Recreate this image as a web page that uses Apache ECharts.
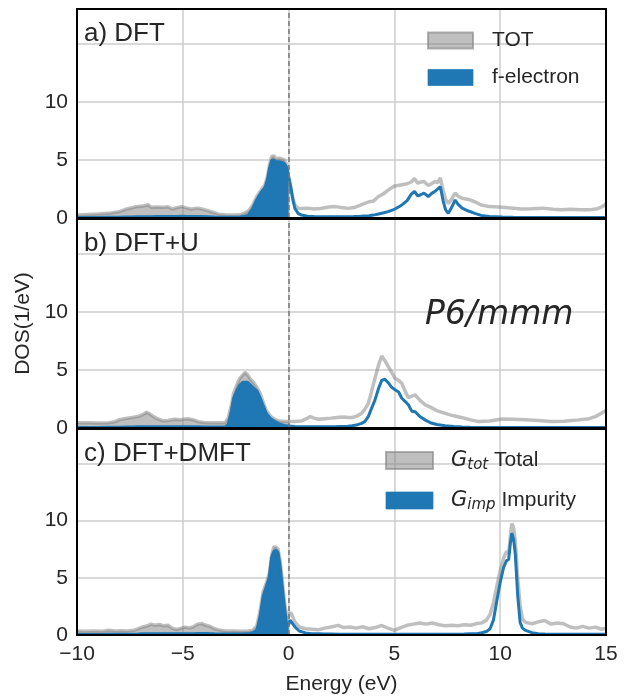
<!DOCTYPE html>
<html>
<head>
<meta charset="utf-8">
<script src="https://cdn.jsdelivr.net/npm/echarts@6/dist/echarts.min.js"></script>
<style>html,body{margin:0;padding:0;background:#fff}#c{width:628px;height:696px}</style>
</head>
<body>
<div id="c"></div>
<script>
// ---------- data ----------
const xTicks = [-10, -5, 0, 5, 10, 15];
const yTicks = [0, 5, 10];

// panel a) DFT
const eA = [-10,-9.5,-9,-8.5,-8,-7.7,-7.4,-7.2,-7.0,-6.8,-6.63,-6.5,-6.2,-5.9,-5.7,-5.5,-5.3,-5.05,-4.8,-4.6,-4.3,-4.1,-3.8,-3.5,-3.3,-3.0,-2.6,-2.3,-2.1,-1.9,-1.7,-1.5,-1.3,-1.12,-1.0,-0.9,-0.8,-0.7,-0.6,-0.45,-0.33,-0.2,-0.1,0,0.1,0.2,0.3,0.45,0.6,0.9,1.2,1.5,1.9,2.2,2.5,2.8,3.1,3.4,3.8,4.0,4.25,4.5,4.7,5.0,5.3,5.6,5.8,5.95,6.1,6.25,6.4,6.6,6.75,6.92,7.05,7.17,7.3,7.42,7.55,7.7,7.87,8.0,8.2,8.5,8.8,9.1,9.5,10.1,10.6,11.0,11.5,12.0,12.5,12.9,13.3,13.8,14.2,14.6,14.8,15];
const totA = [0.25,0.3,0.35,0.4,0.55,0.75,0.88,0.98,1.02,1.05,1.15,0.92,0.95,0.93,0.97,0.78,0.88,0.98,0.85,0.78,0.85,0.78,0.62,0.45,0.33,0.28,0.25,0.27,0.4,0.6,1.1,1.85,2.4,2.85,3.6,4.6,5.3,5.35,5.1,5.15,5.1,5.0,4.6,3.4,2.6,1.7,1.1,0.85,0.82,0.85,0.78,0.82,0.95,0.98,0.9,0.83,0.9,1.1,1.4,1.45,1.85,2.1,2.4,2.75,2.85,2.95,3.1,3.4,3.0,3.1,3.15,2.8,2.95,3.15,3.05,3.45,2.4,1.6,1.25,1.6,2.15,1.9,1.7,1.6,1.4,1.12,0.98,0.92,0.85,0.78,0.8,0.85,0.75,0.72,0.75,0.7,0.7,0.8,0.95,1.2];
const fA = [0.05,0.05,0.05,0.06,0.07,0.08,0.09,0.1,0.1,0.1,0.11,0.11,0.12,0.12,0.12,0.12,0.13,0.14,0.13,0.12,0.12,0.12,0.1,0.08,0.07,0.07,0.07,0.08,0.12,0.25,0.8,1.6,2.2,2.6,3.3,4.3,4.95,5.0,4.85,4.85,4.8,4.7,4.4,3.6,2.7,1.6,0.8,0.4,0.25,0.15,0.12,0.1,0.1,0.1,0.1,0.1,0.12,0.15,0.2,0.25,0.35,0.45,0.55,0.75,1.05,1.5,2.05,2.3,1.9,2.0,2.15,1.85,2.1,2.3,2.5,2.7,1.5,0.7,0.4,0.9,1.55,1.2,0.85,0.6,0.4,0.22,0.12,0.08,0.06,0.05,0.05,0.05,0.05,0.05,0.05,0.05,0.05,0.05,0.05,0.05];

// panel b) DFT+U
const eB = [-10,-9.5,-9,-8.5,-8.2,-8.0,-7.7,-7.4,-7.1,-6.9,-6.71,-6.55,-6.4,-6.2,-5.95,-5.7,-5.4,-5.1,-4.9,-4.74,-4.5,-4.27,-4.0,-3.6,-3.2,-3.0,-2.85,-2.7,-2.6,-2.45,-2.3,-2.15,-2.06,-1.95,-1.8,-1.65,-1.5,-1.35,-1.2,-1.04,-0.85,-0.65,-0.45,-0.2,0,0.3,0.6,0.85,1.02,1.2,1.4,1.7,2.0,2.2,2.4,2.6,2.8,3.0,3.2,3.45,3.6,3.77,3.9,4.08,4.25,4.4,4.55,4.71,4.87,5.03,5.2,5.35,5.5,5.66,5.82,5.98,6.2,6.45,6.7,7.0,7.4,7.8,8.2,8.6,9.0,9.5,10.1,10.6,11.2,11.8,12.4,13.0,13.7,14.2,14.5,14.8,15];
const totB = [0.46,0.45,0.44,0.46,0.55,0.72,0.82,0.9,1.0,1.15,1.35,1.2,1.0,0.8,0.63,0.65,0.75,0.72,0.78,0.8,0.7,0.55,0.47,0.45,0.45,0.46,0.9,2.0,3.0,3.7,4.3,4.6,4.8,4.6,4.2,3.9,3.5,3.0,2.2,1.45,1.0,0.75,0.6,0.55,0.55,0.55,0.6,0.8,0.98,0.85,0.75,0.8,0.85,0.89,0.92,0.95,0.9,0.9,1.0,1.26,1.6,2.13,3.0,4.28,5.4,6.2,5.8,5.28,4.8,4.28,4.1,3.85,3.2,2.6,2.75,2.84,2.4,2.0,1.8,1.5,1.26,1.05,0.89,0.7,0.55,0.6,0.78,0.75,0.7,0.65,0.55,0.58,0.7,0.8,0.98,1.3,1.5];
const fB = [0.05,0.05,0.05,0.06,0.06,0.07,0.08,0.09,0.1,0.1,0.11,0.11,0.1,0.1,0.1,0.1,0.1,0.1,0.1,0.1,0.1,0.1,0.09,0.09,0.09,0.1,0.3,1.5,2.56,3.2,3.7,3.95,4.08,3.95,3.7,3.4,3.2,2.6,1.9,1.2,0.8,0.55,0.35,0.22,0.18,0.12,0.1,0.1,0.1,0.1,0.1,0.1,0.1,0.1,0.12,0.14,0.16,0.2,0.25,0.4,0.55,1.0,1.6,2.4,3.4,4.1,4.2,3.9,3.5,3.3,3.1,2.56,2.3,2.0,1.45,1.4,1.0,0.7,0.45,0.3,0.2,0.12,0.08,0.06,0.05,0.05,0.05,0.05,0.05,0.05,0.05,0.05,0.05,0.05,0.05,0.05,0.05];

// panel c) DFT+DMFT
const eC = [-10,-9.6,-9.2,-8.8,-8.5,-8.2,-7.9,-7.6,-7.3,-7.1,-6.9,-6.7,-6.5,-6.3,-6.1,-5.9,-5.7,-5.5,-5.3,-5.1,-4.9,-4.7,-4.5,-4.3,-4.1,-3.9,-3.7,-3.5,-3.3,-3.0,-2.6,-2.2,-1.9,-1.7,-1.5,-1.35,-1.2,-1.04,-0.92,-0.8,-0.7,-0.6,-0.5,-0.4,-0.3,-0.2,-0.1,0,0.07,0.15,0.3,0.5,0.8,1.1,1.4,1.7,2.0,2.35,2.6,2.9,3.2,3.5,3.8,4.1,4.4,4.7,5.0,5.3,5.6,5.9,6.2,6.5,6.8,7.1,7.4,7.7,8.0,8.3,8.6,8.9,9.13,9.35,9.52,9.68,9.84,10.0,10.16,10.3,10.4,10.48,10.55,10.63,10.71,10.83,10.94,11.05,11.2,11.5,11.8,12.1,12.4,12.7,13.0,13.3,13.6,13.9,14.2,14.5,14.8,15];
const totC = [0.34,0.32,0.36,0.33,0.42,0.35,0.38,0.36,0.42,0.55,0.7,0.78,0.95,0.85,0.92,0.8,0.85,0.6,0.48,0.58,0.69,0.62,0.72,0.95,1.0,0.85,0.75,0.55,0.45,0.35,0.34,0.33,0.35,0.4,0.8,2.1,3.8,4.6,5.3,7.0,7.7,7.7,7.5,6.5,4.8,3.0,1.7,1.6,1.98,1.8,1.12,0.7,0.55,0.5,0.45,0.6,0.7,0.84,0.65,0.7,0.6,0.72,0.55,0.65,0.83,0.6,0.4,0.65,0.85,0.95,1.05,0.95,1.05,0.9,0.8,0.85,0.8,0.9,0.85,1.0,1.06,1.3,1.78,2.8,4.28,5.6,6.72,7.3,7.16,8.6,9.74,9.4,8.3,4.87,2.6,1.4,1.1,0.98,1.15,1.26,0.95,1.05,0.98,0.7,0.6,0.75,0.6,0.69,0.5,0.6];
const fC = [0.05,0.05,0.05,0.05,0.06,0.06,0.06,0.07,0.07,0.08,0.1,0.1,0.12,0.12,0.12,0.11,0.11,0.1,0.1,0.1,0.11,0.11,0.12,0.13,0.14,0.13,0.12,0.1,0.09,0.08,0.08,0.08,0.1,0.2,0.4,1.6,3.4,4.3,5.0,6.8,7.3,7.4,7.2,6.0,4.2,2.5,1.0,0.9,1.3,1.2,0.7,0.35,0.18,0.12,0.1,0.08,0.08,0.07,0.07,0.07,0.06,0.06,0.06,0.06,0.06,0.06,0.06,0.06,0.06,0.06,0.06,0.06,0.06,0.06,0.06,0.07,0.07,0.08,0.1,0.12,0.2,0.3,0.55,1.3,3.0,4.6,5.9,6.5,6.6,8.0,8.9,8.4,7.16,3.4,1.1,0.6,0.4,0.2,0.12,0.08,0.06,0.06,0.06,0.06,0.06,0.06,0.06,0.06,0.06,0.06];

const panelLabels = ['a) DFT', 'b) DFT+U', 'c) DFT+DMFT'];
const legendA = ['TOT', 'f-electron'];
const legendC = ['Gtot', 'Gimp'];

// ---------- chart ----------
const FONT = 'Liberation Sans';
const TXT = '#262626';
const GRAY = 'rgba(128,128,128,0.5)';
const BLUE = '#1f77b4';
const panels = [
  {e: eA, tot: totA, f: fA, names: ['TOT', 'f-electron']},
  {e: eB, tot: totB, f: fB, names: ['TOT_b', 'f_b']},
  {e: eC, tot: totC, f: fC, names: ['Gtot', 'Gimp']}
];
const tops = [9, 219, 429];
const H = 209;

const grids = [], xAxes = [], yAxes = [], series = [];
panels.forEach((p, i) => {
  grids.push({left: 77, right: 22, top: tops[i], height: H, show: true,
    backgroundColor: 'rgba(0,0,0,0)', borderColor: '#000', borderWidth: 2, z: 10});
  xAxes.push({type: 'value', gridIndex: i, min: -10, max: 15, interval: 5,
    axisLine: {show: false}, axisTick: {show: false},
    splitLine: {show: true, lineStyle: {color: '#cccccc', width: 1.5}},
    axisLabel: {show: i === 2, fontSize: 21, color: TXT, fontFamily: FONT, margin: 9,
      formatter: v => (v < 0 ? '\u2212' + Math.abs(v) : '' + v)},
    name: i === 2 ? 'Energy (eV)' : '', nameLocation: 'middle', nameGap: 39,
    nameTextStyle: {fontSize: 21, color: TXT, fontFamily: FONT}});
  yAxes.push({type: 'value', gridIndex: i, min: 0, max: 18, interval: 5,
    axisLine: {show: false}, axisTick: {show: false},
    splitLine: {show: true, lineStyle: {color: '#cccccc', width: 1.5}},
    axisLabel: {fontSize: 21, color: TXT, fontFamily: FONT, margin: 9,
      formatter: v => (yTicks.indexOf(v) >= 0 ? '' + v : '')},
    name: i === 1 ? 'DOS(1/eV)' : '', nameLocation: 'middle', nameGap: 40, nameRotate: 90,
    nameTextStyle: {fontSize: 21, color: TXT, fontFamily: FONT}});
  const all = (v) => p.e.map((x, k) => [x, v[k]]);
  const neg = (v) => p.e.map((x, k) => [x, v[k]]).filter(d => d[0] <= 0);
  series.push({type: 'line', name: p.names[0], xAxisIndex: i, yAxisIndex: i, data: neg(p.tot),
    showSymbol: false, lineStyle: {width: 0, opacity: 0}, areaStyle: {color: GRAY, opacity: 1}, z: 1, silent: true});
  series.push({type: 'line', name: p.names[0], xAxisIndex: i, yAxisIndex: i, data: all(p.tot),
    showSymbol: false, lineStyle: {width: 3.5, color: GRAY}, itemStyle: {color: GRAY}, z: 2, silent: true});
  series.push({type: 'line', name: p.names[1], xAxisIndex: i, yAxisIndex: i, data: neg(p.f),
    showSymbol: false, lineStyle: {width: 0, opacity: 0}, areaStyle: {color: BLUE, opacity: 1}, z: 3, silent: true});
  series.push({type: 'line', name: p.names[1], xAxisIndex: i, yAxisIndex: i, data: all(p.f),
    showSymbol: false, lineStyle: {width: 3, color: BLUE}, itemStyle: {color: BLUE}, z: 4, silent: true,
    markLine: {silent: true, symbol: ['none', 'none'], label: {show: false}, animation: false,
      lineStyle: {color: '#777', type: [5, 3], width: 1.5}, data: [{xAxis: 0}]}});
});

const titles = panelLabels.map((t, i) => ({text: t, left: 84, top: tops[i] + 12, padding: 0,
  textStyle: {fontSize: 26, fontWeight: 'normal', color: TXT, fontFamily: FONT}}));
titles.push({text: 'P6/mmm', left: 425, top: 299, padding: 0,
  textStyle: {fontSize: 33, fontWeight: 'normal', fontStyle: 'italic', color: TXT, fontFamily: 'DejaVu Sans'}});

const chart = echarts.init(document.getElementById('c'), null, {renderer: 'canvas'});
chart.setOption({
  animation: false,
  backgroundColor: '#fff',
  title: titles,
  grid: grids, xAxis: xAxes, yAxis: yAxes, series: series,
  legend: [
    {left: 427, top: 30, padding: 0, orient: 'vertical', itemWidth: 45, itemHeight: 16, itemGap: 16, selectedMode: false,
      textStyle: {fontSize: 21, color: TXT, fontFamily: FONT, padding: [0, 0, 0, 14]},
      data: [
        {name: legendA[0], icon: 'rect', itemStyle: {color: GRAY, borderColor: 'rgba(128,128,128,0.6)', borderWidth: 2}},
        {name: legendA[1], icon: 'rect', itemStyle: {color: BLUE, borderColor: 'rgba(31,119,180,0.7)', borderWidth: 1}}
      ]},
    {left: 385, top: 450, padding: 0, orient: 'vertical', itemWidth: 47, itemHeight: 17, itemGap: 17, selectedMode: false,
      textStyle: {fontSize: 21, color: TXT, fontFamily: FONT, padding: [0, 0, 0, 13],
        rich: {
          g: {fontSize: 21, fontStyle: 'italic', fontFamily: 'DejaVu Sans', color: TXT},
          s: {fontSize: 15, fontStyle: 'italic', fontFamily: 'DejaVu Sans', color: TXT, padding: [10, 0, 0, 0]},
          t: {fontSize: 21, fontFamily: FONT, color: TXT}
        }},
      formatter: n => n === 'Gtot' ? '{g|G}{s|tot}{t| Total}' : '{g|G}{s|imp}{t| Impurity}',
      data: [
        {name: legendC[0], icon: 'rect', itemStyle: {color: GRAY, borderColor: 'rgba(128,128,128,0.6)', borderWidth: 2}},
        {name: legendC[1], icon: 'rect', itemStyle: {color: BLUE, borderColor: 'rgba(31,119,180,0.7)', borderWidth: 1}}
      ]}
  ]
});
</script>
</body>
</html>
